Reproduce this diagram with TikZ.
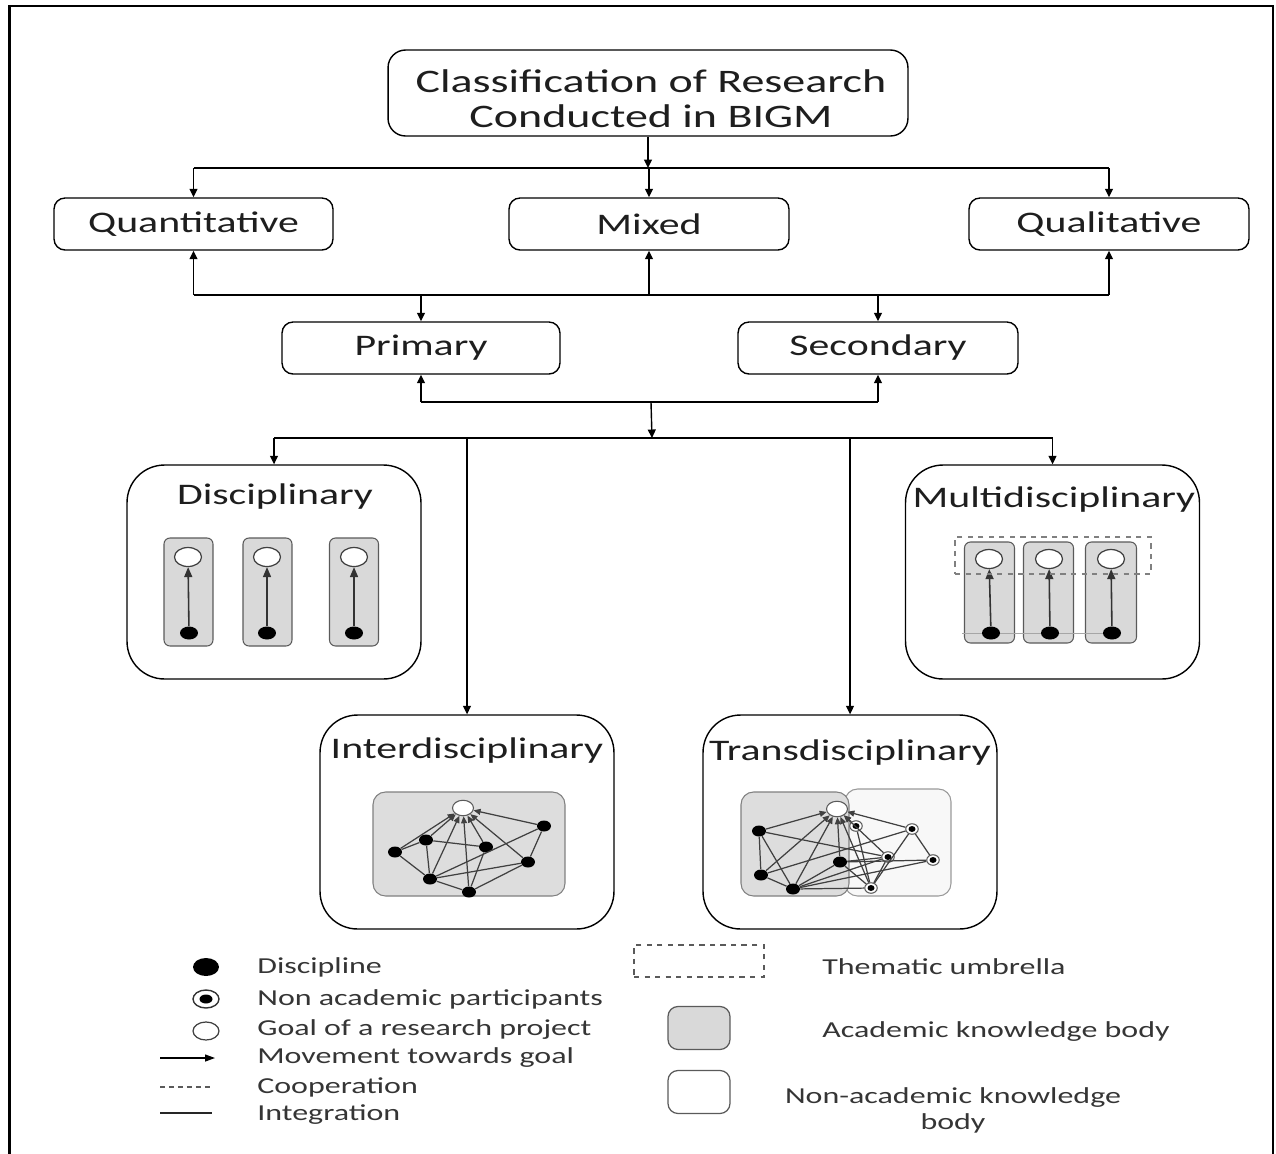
\documentclass[tikz,border=0pt]{standalone}
\usepackage{fontspec}
\setmainfont{Carlito}[FakeStretch=1.4]
\usetikzlibrary{shapes.geometric,arrows.meta}
\definecolor{colfill}{HTML}{D9D9D9}
\definecolor{colline}{HTML}{5A5A5A}
\definecolor{txt}{HTML}{1E1E1E}
\definecolor{nonfill}{HTML}{F8F8F8}
\begin{document}
\begin{tikzpicture}[x=0.02cm,y=-0.02cm,
  conn/.style={line width=0.8pt},
  arr/.style={line width=0.8pt,-{Triangle[length=0.17cm,width=0.16cm]}},
  box/.style={draw, line width=0.8pt, rounded corners=0.22cm, minimum height=1.04cm, inner sep=0, text=txt, font=\fontsize{17}{20}\selectfont},
  bigbox/.style={draw, line width=0.8pt, rounded corners=0.75cm, minimum width=5.88cm, minimum height=4.28cm, inner sep=0},
  ttl/.style={text=txt, font=\fontsize{17}{20}\selectfont, inner sep=0},
  col/.style={draw=colline, fill=colfill, line width=0.6pt, rounded corners=0.12cm, minimum width=0.98cm, minimum height=2.16cm, inner sep=0},
  goal/.style={ellipse, draw=black!75, fill=white, line width=0.7pt, minimum width=0.54cm, minimum height=0.38cm, inner sep=0},
  bdot/.style={ellipse, fill=black, minimum width=0.36cm, minimum height=0.26cm, inner sep=0},
  colarr/.style={line width=0.9pt, draw=black!80, -{Triangle[length=0.2cm,width=0.16cm]}},
  gdot/.style={ellipse, fill=black, minimum width=0.28cm, minimum height=0.22cm, inner sep=0},
  ggoal/.style={ellipse, draw=colline, fill=white, line width=0.6pt, minimum width=0.42cm, minimum height=0.31cm, inner sep=0},
  nadot/.style={ellipse, draw=colline, fill=white, line width=0.6pt, minimum width=0.25cm, minimum height=0.21cm, inner sep=0,
     path picture={\fill[black] (path picture bounding box.center) ellipse [x radius=0.07cm, y radius=0.06cm];}},
  gline/.style={line width=0.7pt, draw=black!75},
  garr/.style={line width=0.7pt, draw=black!75, -{Triangle[length=0.14cm,width=0.12cm]}},
  legtxt/.style={anchor=west, text=txt!90, font=\fontsize{13}{15}\selectfont, inner sep=0}
]
\useasboundingbox (0,0) rectangle (1276,1154);
% outer frame
\draw[line width=1.5pt] (9.5,1170) -- (9.5,6) -- (1273,6) -- (1273,1170);

% top hierarchy
\node[box, rounded corners=0.35cm, minimum width=10.4cm, minimum height=1.72cm] (title) at (648,93) {};
\node[ttl, align=center, font=\fontsize{18.7}{19.8}\selectfont] (titletext) at (651,99) {Classification of Research\\Conducted in BIGM};
\node[box, minimum width=5.58cm] (quant) at (193.5,224) {Quantitative};
\node[box, minimum width=5.6cm] (mixed) at (649,224) {Mixed};
\node[box, minimum width=5.6cm] (qual) at (1109,224) {Qualitative};
\node[box, minimum width=5.56cm] (primary) at (421,348) {Primary};
\node[box, minimum width=5.6cm] (secondary) at (878,348) {Secondary};

\coordinate (b1) at (649,168);
\coordinate (b2) at (649,295);
\coordinate (b3) at (651,402);
\coordinate (b4) at (652,438);

\draw[arr] (title.south) -- (title.south |- b1);
\draw[conn] (quant.north |- b1) -- (qual.north |- b1);
\draw[arr] (quant.north |- b1) -- (quant.north);
\draw[arr] (mixed.north |- b1) -- (mixed.north);
\draw[arr] (qual.north |- b1) -- (qual.north);

\draw[conn] (quant.south |- b2) -- (qual.south |- b2);
\draw[arr] (quant.south |- b2) -- (quant.south);
\draw[arr] (mixed.south |- b2) -- (mixed.south);
\draw[arr] (qual.south |- b2) -- (qual.south);
\draw[arr] (primary.north |- b2) -- (primary.north);
\draw[arr] (secondary.north |- b2) -- (secondary.north);

\draw[conn] (primary.south |- b3) -- (secondary.south |- b3);
\draw[arr] (primary.south |- b3) -- (primary.south);
\draw[arr] (secondary.south |- b3) -- (secondary.south);
\draw[arr] (b3) -- (b4);

% four big boxes
\node[bigbox] (disc) at (274,572) {};
\node[bigbox] (multi) at (1052.5,572) {};
\node[bigbox] (inter) at (467,822) {};
\node[bigbox] (trans) at (850,822) {};

\draw[conn] (disc.north |- b4) -- (multi.north |- b4);
\draw[arr] (disc.north |- b4) -- (disc.north);
\draw[arr] (multi.north |- b4) -- (multi.north);
\draw[arr] (inter.north |- b4) -- (inter.north);
\draw[arr] (trans.north |- b4) -- (trans.north);

\node[ttl] (disct) at (275,497) {Disciplinary};
\node[ttl] (multit) at (1054,500) {Multidisciplinary};
\node[ttl] (intert) at (467,751) {Interdisciplinary};
\node[ttl] (transt) at (850,753) {Transdisciplinary};

% Disciplinary columns
\node[col] (dc1) at (188.5,592) {};
\node[col] (dc2) at (267.5,592) {};
\node[col] (dc3) at (354,592) {};
\node[goal] (dg1) at (188,557) {};
\node[goal] (dg2) at (267,557) {};
\node[goal] (dg3) at (354,557) {};
\node[bdot] (dd1) at (189,633) {};
\node[bdot] (dd2) at (267,633) {};
\node[bdot] (dd3) at (354,633) {};
\draw[colarr] (dd1) -- (dg1);
\draw[colarr] (dd2) -- (dg2);
\draw[colarr] (dd3) -- (dg3);

% Multidisciplinary columns
\node[col, minimum width=1.0cm, minimum height=2.02cm] (mc1) at (989.5,592.5) {};
\node[col, minimum width=1.0cm, minimum height=2.02cm] (mc2) at (1048.5,592.5) {};
\node[col, minimum width=1.02cm, minimum height=2.02cm] (mc3) at (1111,592.5) {};
\coordinate (mlstart) at (962,633);
\draw[line width=0.5pt, draw=gray!70] (mlstart) -- (1112,633);
\node[goal] (mg1) at (989,559) {};
\node[goal] (mg2) at (1049,559) {};
\node[goal] (mg3) at (1111,559) {};
\node[bdot] (md1) at (991,633) {};
\node[bdot] (md2) at (1050,633) {};
\node[bdot] (md3) at (1112,633) {};
\draw[colarr] (md1) -- (mg1);
\draw[colarr] (md2) -- (mg2);
\draw[colarr] (md3) -- (mg3);
\node[draw=gray, dashed, line width=0.6pt, minimum width=3.92cm, minimum height=0.74cm, inner sep=0] (umb) at (1053,555.5) {};

% Interdisciplinary graph
\node[draw=gray, fill=colfill!90, line width=0.6pt, rounded corners=0.25cm, minimum width=3.84cm, minimum height=2.08cm, inner sep=0] (ibody) at (469,844) {};
\node[ggoal] (ig) at (463,808) {};
\node[gdot] (ia) at (395,852) {};
\node[gdot] (ib) at (426,840) {};
\node[gdot] (ic) at (486,847) {};
\node[gdot] (id) at (544,826) {};
\node[gdot] (ie) at (528,862) {};
\node[gdot] (if) at (430,879) {};
\node[gdot] (ih) at (469,892) {};
\foreach \s/\t in {ia/ib, ia/if, ib/if, ib/ic, if/ih, if/id, if/ie, ih/ic, ih/ie, id/ie}
  \draw[gline] (\s) -- (\t);
\foreach \s in {ia, ib, if, ih, ic, ie, id}
  \draw[garr] (\s) -- (ig);

% Transdisciplinary graph
\node[draw=gray!80, fill=nonfill, line width=0.6pt, rounded corners=0.25cm, minimum width=2.12cm, minimum height=2.14cm, inner sep=0] (tnon) at (898,842.5) {};
\node[draw=gray, fill=colfill!90, line width=0.6pt, rounded corners=0.25cm, minimum width=2.16cm, minimum height=2.08cm, inner sep=0] (tacad) at (795,844) {};
\node[ggoal] (tg) at (837,809) {};
\node[gdot] (tA) at (759,831) {};
\node[gdot] (tB) at (761,875) {};
\node[gdot] (tC) at (793,889) {};
\node[gdot] (tD) at (840,862) {};
\node[nadot] (tP) at (856,826) {};
\node[nadot] (tQ) at (912,829) {};
\node[nadot] (tR) at (888,857) {};
\node[nadot] (tS) at (933,860) {};
\node[nadot] (tT) at (871,888) {};
\foreach \s/\t in {tA/tB, tA/tC, tA/tR, tB/tC, tB/tQ, tC/tD, tC/tS, tC/tR, tC/tT, tD/tR, tD/tS, tD/tT, tQ/tS, tQ/tT, tR/tT, tP/tT}
  \draw[gline] (\s) -- (\t);
\foreach \s in {tA, tB, tC, tD, tT, tP, tR, tQ}
  \draw[garr] (\s) -- (tg);

% Legend left
\node[bdot, minimum width=0.52cm, minimum height=0.36cm] (ldot) at (206,967) {};
\node[nadot, minimum width=0.52cm, minimum height=0.36cm, line width=0.8pt, draw=black!80,
  path picture={\fill[black] (path picture bounding box.center) ellipse [x radius=0.13cm, y radius=0.09cm];}] (lna) at (206,999) {};
\node[goal, minimum width=0.52cm, minimum height=0.36cm] (lgoal) at (206,1031) {};
\coordinate (la1) at (160,1058);
\coordinate (la2) at (215,1058);
\draw[line width=0.7pt, -{Triangle[length=0.2cm,width=0.14cm]}] (la1) -- (la2);
\coordinate (lc1) at (160,1087);
\coordinate (lc2) at (212,1087);
\draw[line width=0.6pt, draw=colline, dash pattern=on 0.1cm off 0.08cm] (lc1) -- (lc2);
\coordinate (li1) at (160,1113);
\coordinate (li2) at (212,1113);
\draw[line width=0.7pt, draw=black!85] (li1) -- (li2);

\node[legtxt] (t1) at (257,967) {Discipline};
\node[legtxt] (t2) at (257,999) {Non academic participants};
\node[legtxt] (t3) at (257,1030) {Goal of a research project};
\node[legtxt] (t4) at (257,1058) {Movement towards goal};
\node[legtxt] (t5) at (257,1087) {Cooperation};
\node[legtxt] (t6) at (257,1115) {Integration};

% Legend right
\node[draw=colline, dashed, line width=0.6pt, minimum width=2.6cm, minimum height=0.64cm, inner sep=0] (lumb) at (699,961) {};
\node[draw=colline, fill=colfill, line width=0.7pt, rounded corners=0.2cm, minimum width=1.24cm, minimum height=0.86cm, inner sep=0] (lacad) at (699,1028) {};
\node[draw=colline, fill=white, line width=0.7pt, rounded corners=0.2cm, minimum width=1.24cm, minimum height=0.86cm, inner sep=0] (lnon) at (699,1092) {};
\node[legtxt] (t7) at (822,967) {Thematic umbrella};
\node[legtxt] (t8) at (822,1032) {Academic knowledge body};
\node[legtxt, anchor=center, align=center, font=\fontsize{13}{14.7}\selectfont] (t9) at (953,1110) {Non-academic knowledge\\body};
\end{tikzpicture}
\end{document}
